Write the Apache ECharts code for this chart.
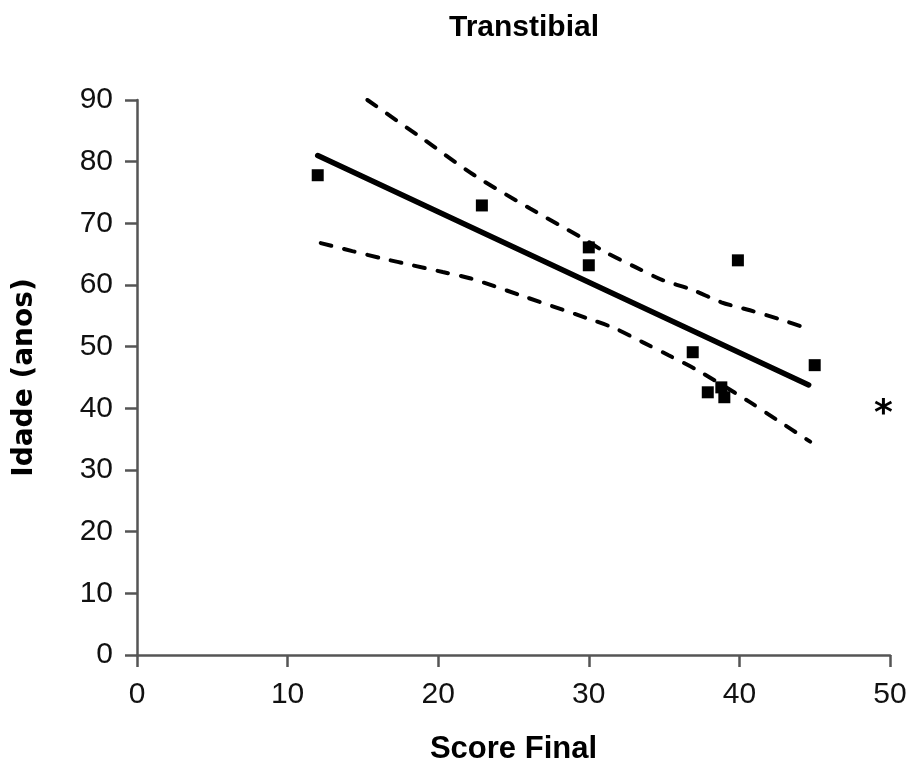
<!DOCTYPE html>
<html><head><meta charset="utf-8">
<script src="https://cdn.jsdelivr.net/npm/echarts@6/dist/echarts.min.js"></script>
<style>html,body{margin:0;padding:0;background:#fff}#c{width:907px;height:765px}</style>
</head><body><div id="c"></div>
<script>
const xTicks = [0, 10, 20, 30, 40, 50];
const yTicks = [0, 10, 20, 30, 40, 50, 60, 70, 80, 90];
const points = [[12, 77.8], [22.9, 72.9], [30, 66.1], [30, 63.2], [36.9, 49.1], [37.9, 42.6], [38.8, 43.4], [39.0, 41.8], [39.9, 64.0], [45.0, 47.0]];
const fitLine = [[12, 81.0], [44.6, 43.8]];
const upperBand = [[15.3, 90], [19.1, 83.5], [22.4, 77.8], [26.1, 72.4], [29.5, 67.7], [31.2, 65.2], [33.1, 62.9], [34.9, 60.8], [36.9, 59.2], [38.8, 57.2], [40.7, 55.9], [42.6, 54.5], [44.7, 52.8]];
const lowerBand = [[12.2, 66.8], [14.3, 65.5], [16.3, 64.3], [18.3, 63.2], [20.3, 62.1], [22.1, 61.1], [25.5, 58.3], [29.9, 54.6], [31.7, 53.0], [33.6, 50.7], [35.3, 48.6], [37.2, 46.2], [40.7, 41.0], [42.5, 38.1], [44.7, 34.6]];

const FONT = "'Liberation Sans', 'DejaVu Sans', sans-serif";
const axisColor = '#555';
const chart = echarts.init(document.getElementById('c'));
chart.setOption({
  animation: false,
  title: { text: 'Transtibial', left: 519, textAlign: 'center', top: 8, textStyle: { fontFamily: FONT, fontSize: 30, fontWeight: 'bold', color: '#000' } },
  grid: { left: 137, right: 17, top: 100, bottom: 110, containLabel: false, outerBoundsMode: 'none' },
  xAxis: {
    type: 'value', min: 0, max: 50, interval: 10,
    name: 'Score Final', nameLocation: 'middle', nameGap: 79,
    nameTextStyle: { fontFamily: FONT, fontSize: 31, fontWeight: 'bold', color: '#000' },
    axisLine: { show: true, onZero: false, lineStyle: { color: axisColor, width: 2.5 } },
    axisTick: { show: true, length: 12, lineStyle: { color: axisColor, width: 2.5 } },
    axisLabel: { margin: 25, fontFamily: FONT, fontSize: 30, color: '#111', formatter: v => xTicks.includes(v) ? String(v) : '' },
    splitLine: { show: false }
  },
  yAxis: {
    type: 'value', min: 0, max: 90, interval: 10,
    name: 'Idade (anos)', nameLocation: 'middle', nameGap: 98,
    nameTextStyle: { fontFamily: "'DejaVu Sans', sans-serif", fontSize: 28, fontWeight: 'bold', color: '#000' },
    axisLine: { show: true, onZero: false, lineStyle: { color: axisColor, width: 2.5 } },
    axisTick: { show: true, length: 12, lineStyle: { color: axisColor, width: 2.5 } },
    axisLabel: { margin: 24, fontFamily: FONT, fontSize: 30, color: '#111', formatter: v => yTicks.includes(v) ? String(v) : '' },
    splitLine: { show: false }
  },
  series: [
    { type: 'line', data: upperBand, smooth: 0.3, showSymbol: false, symbol: 'none', lineStyle: { color: '#000', width: 4, type: [11, 13], cap: 'round' }, z: 2 },
    { type: 'line', data: lowerBand, smooth: 0.3, showSymbol: false, symbol: 'none', lineStyle: { color: '#000', width: 4, type: [11, 13], cap: 'round' }, z: 2 },
    { type: 'line', data: fitLine, showSymbol: false, symbol: 'none', lineStyle: { color: '#000', width: 5.5, cap: 'round' }, z: 3 },
    { type: 'scatter', data: points, symbol: 'rect', symbolSize: 12, itemStyle: { color: '#000', opacity: 1 }, z: 4 }
  ],
  graphic: [
    { type: 'text', left: 874, top: 397, style: { text: '*', font: "bold 36px 'DejaVu Sans', sans-serif", fill: '#000' } }
  ]
});
</script></body></html>
